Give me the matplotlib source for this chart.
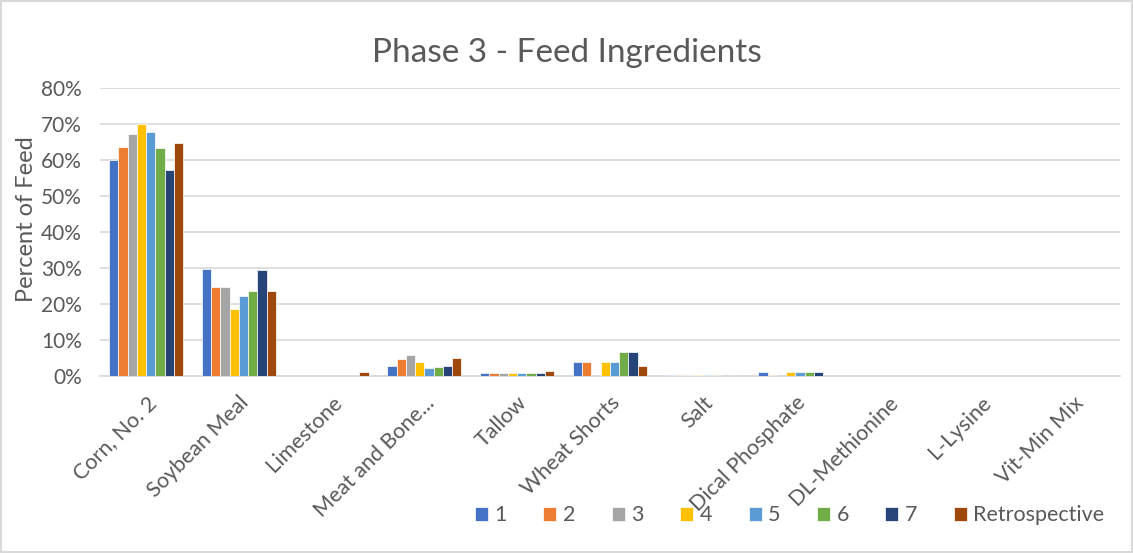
import matplotlib
matplotlib.use('Agg')
import matplotlib.pyplot as plt
import numpy as np

plt.rcParams['font.family'] = ['Lato', 'DejaVu Sans']

# data (percent of feed)
ingredients = ['Corn, No. 2', 'Soybean Meal', 'Limestone', 'Meat and Bone...', 'Tallow',
               'Wheat Shorts', 'Salt', 'Dical Phosphate', 'DL-Methionine', 'L-Lysine', 'Vit-Min Mix']
series_names = ['1', '2', '3', '4', '5', '6', '7', 'Retrospective']
s1 = [60.0, 29.7, 0.1, 2.9, 0.8, 3.8, 0.3, 1.1, 0.0, 0.0, 0.0]
s2 = [63.5, 24.8, 0.1, 4.7, 0.8, 3.9, 0.3, 0.4, 0.0, 0.0, 0.0]
s3 = [67.2, 24.6, 0.1, 5.8, 0.8, 0.0, 0.3, 0.0, 0.0, 0.0, 0.0]
s4 = [70.0, 18.7, 0.1, 3.8, 0.8, 3.9, 0.3, 1.1, 0.0, 0.0, 0.0]
s5 = [67.9, 22.3, 0.1, 2.1, 0.8, 3.9, 0.3, 1.1, 0.0, 0.0, 0.0]
s6 = [63.2, 23.7, 0.1, 2.4, 0.8, 6.8, 0.3, 1.1, 0.0, 0.0, 0.0]
s7 = [57.3, 29.4, 0.1, 2.8, 0.8, 6.8, 0.3, 1.1, 0.0, 0.0, 0.0]
retro = [64.6, 23.6, 1.0, 4.9, 1.5, 2.9, 0.3, 0.0, 0.1, 0.0, 0.0]
all_series = [s1, s2, s3, s4, s5, s6, s7, retro]
colors = ['#4472C4', '#ED7D31', '#A5A5A5', '#FFC000', '#5B9BD5', '#70AD47', '#264478', '#9E480E']

fig = plt.figure(figsize=(11.33, 5.53), dpi=100)
fig.patch.set_edgecolor('#D9D9D9')
fig.patch.set_linewidth(1.5)
ax = fig.add_axes([0.088, 0.32, 0.9005, 0.521])

x = np.arange(len(ingredients))
w = 0.1
for i, (vals, c, name) in enumerate(zip(all_series, colors, series_names)):
    ax.bar(x + (i - 3.5) * w, vals, w, color=c, edgecolor='white', linewidth=0.5, label=name, zorder=3)

ax.set_xlim(-0.5, len(ingredients) - 0.5)
ax.set_ylim(0, 80)
ax.set_yticks(np.arange(0, 81, 10))
ax.set_yticklabels(['%d%%' % v for v in range(0, 81, 10)])
ax.grid(axis='y', color='#D9D9D9', linewidth=1.2, zorder=0)
for s in ['top', 'right', 'left']:
    ax.spines[s].set_visible(False)
ax.spines['bottom'].set_color('#D9D9D9')
ax.spines['bottom'].set_linewidth(1.2)
ax.tick_params(axis='both', length=0, colors='#595959', labelsize=15)
ax.tick_params(axis='y', pad=13)
ax.tick_params(axis='x', pad=12, labelsize=15.5)
ax.set_xticks(x)
ax.set_xticklabels(ingredients, rotation=45, ha='right', rotation_mode='anchor')

fig.text(27 / 1133, 1 - 219 / 553, 'Percent of Feed', rotation=90, ha='center', va='center',
         fontsize=17, color='#595959')
fig.text(0.5, 0.905, 'Phase 3 - Feed Ingredients', ha='center', va='center', fontsize=24, color='#595959')

leg = fig.legend(loc='center', bbox_to_anchor=(0.697, 0.068), ncol=8, frameon=False,
                 handlelength=0.6, handleheight=0.6, handletextpad=0.3, columnspacing=1.7, fontsize=15.5)
for t in leg.get_texts():
    t.set_color('#595959')

fig.savefig('out.png', dpi=100)
